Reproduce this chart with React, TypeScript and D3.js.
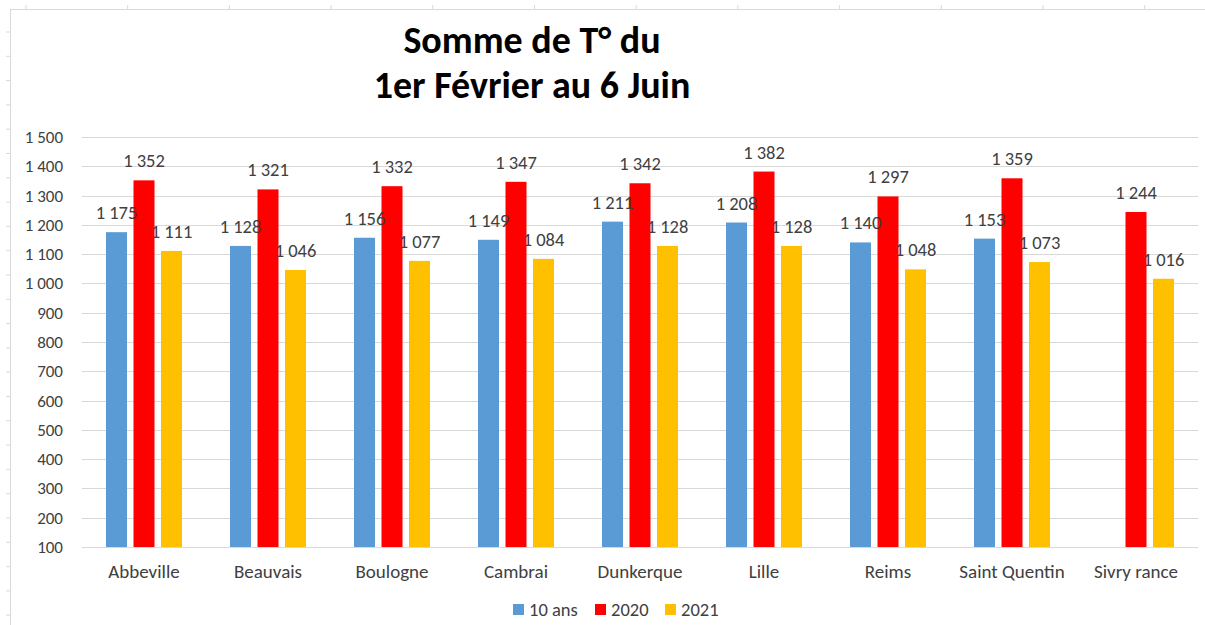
import * as d3 from 'd3';

const categories = ['Abbeville', 'Beauvais', 'Boulogne', 'Cambrai', 'Dunkerque', 'Lille', 'Reims', 'Saint Quentin', 'Sivry rance'];
const seriesNames = ['10 ans', '2020', '2021'];
const tenYears = [1175, 1128, 1156, 1149, 1211, 1208, 1140, 1153, null];
const year2020 = [1352, 1321, 1332, 1347, 1342, 1382, 1297, 1359, 1244];
const year2021 = [1111, 1046, 1077, 1084, 1128, 1128, 1048, 1073, 1016];
const yTicks = [100, 200, 300, 400, 500, 600, 700, 800, 900, 1000, 1100, 1200, 1300, 1400, 1500];
const colors = ['#5B9BD5', '#FF0000', '#FFC000'];

const W = 1205, H = 625;
const font = "Carlito, Calibri, Lato, sans-serif";
const textColor = '#404040';

export default function App() {
  const x = d3.scaleBand().domain(categories).range([82, 1198]);
  const xSub = d3.scaleBand().domain(seriesNames).range([0, 82.5]).paddingInner(0.236).paddingOuter(0.118);
  const y = d3.scaleLinear().domain([100, 1500]).range([547, 137]);
  const fmt = d3.formatLocale({ decimal: ',', thousands: ' ', grouping: [3], currency: ['', ''] }).format(',');

  const allSeries = [tenYears, year2020, year2021];

  // flatten to one list of bars, so labels can be drawn above every bar
  const bars: { cat: string; j: number; v: number; x0: number }[] = [];
  categories.forEach((c, i) => {
    allSeries.forEach((s, j) => {
      const v = s[i];
      if (v == null) return;
      const x0 = (x(c) as number) + x.bandwidth() / 2 - 41.25 + (xSub(seriesNames[j]) as number);
      bars.push({ cat: c, j, v, x0 });
    });
  });

  // faint spreadsheet cells behind the chart
  const colTicks = d3.range(26, W, 101.7);
  const rowTicks = d3.range(32, H, 24.3);

  return (
    <svg width={W} height={H} style={{ position: 'absolute', left: 0, top: 0, background: '#fff' }}>
      <g stroke="#d9d9d9" strokeWidth={1}>
        <line x1={10} x2={W} y1={9.5} y2={9.5} />
        <line x1={10.5} x2={10.5} y1={9} y2={H} />
        {colTicks.map((cx, i) => <line key={'c' + i} x1={cx} x2={cx} y1={5} y2={9} />)}
        {rowTicks.map((ry, i) => <line key={'r' + i} x1={6} x2={10} y1={ry} y2={ry} />)}
      </g>

      <g fontFamily={font} fontWeight="bold" fontSize={38} fill="#000" textAnchor="middle">
        <text x={532} y={53}>Somme de T° du</text>
        <text x={532} y={98}>1er Février au 6 Juin</text>
      </g>

      <g>
        {yTicks.map(t => (
          <g key={t}>
            <line x1={82} x2={1198} y1={Math.round(y(t)) + 0.5} y2={Math.round(y(t)) + 0.5} stroke="#d9d9d9" />
            <text x={63} y={y(t)} dy="0.35em" textAnchor="end" fontFamily={font} fontSize={17} fill={textColor}>{fmt(t)}</text>
          </g>
        ))}
      </g>

      <g>
        {bars.map(b => (
          <rect key={b.cat + b.j} x={b.x0} y={y(b.v)} width={xSub.bandwidth()} height={y(100) - y(b.v)} fill={colors[b.j]} />
        ))}
      </g>
      <g fontFamily={font} fontSize={18.5} fill={textColor} textAnchor="middle">
        {bars.map(b => (
          <text key={b.cat + b.j} x={b.x0 + xSub.bandwidth() / 2} y={y(b.v) - 13}>{fmt(b.v)}</text>
        ))}
      </g>

      <g fontFamily={font} fontSize={19} fill={textColor} textAnchor="middle">
        {categories.map(c => (
          <text key={c} x={(x(c) as number) + x.bandwidth() / 2} y={578}>{c}</text>
        ))}
      </g>

      <g fontFamily={font} fontSize={18.5} fill={textColor}>
        {seriesNames.map((s, j) => {
          const lx = [513, 595, 665][j];
          return (
            <g key={s}>
              <rect x={lx} y={604} width={11} height={11} fill={colors[j]} />
              <text x={lx + 16} y={616}>{s}</text>
            </g>
          );
        })}
      </g>
    </svg>
  );
}
